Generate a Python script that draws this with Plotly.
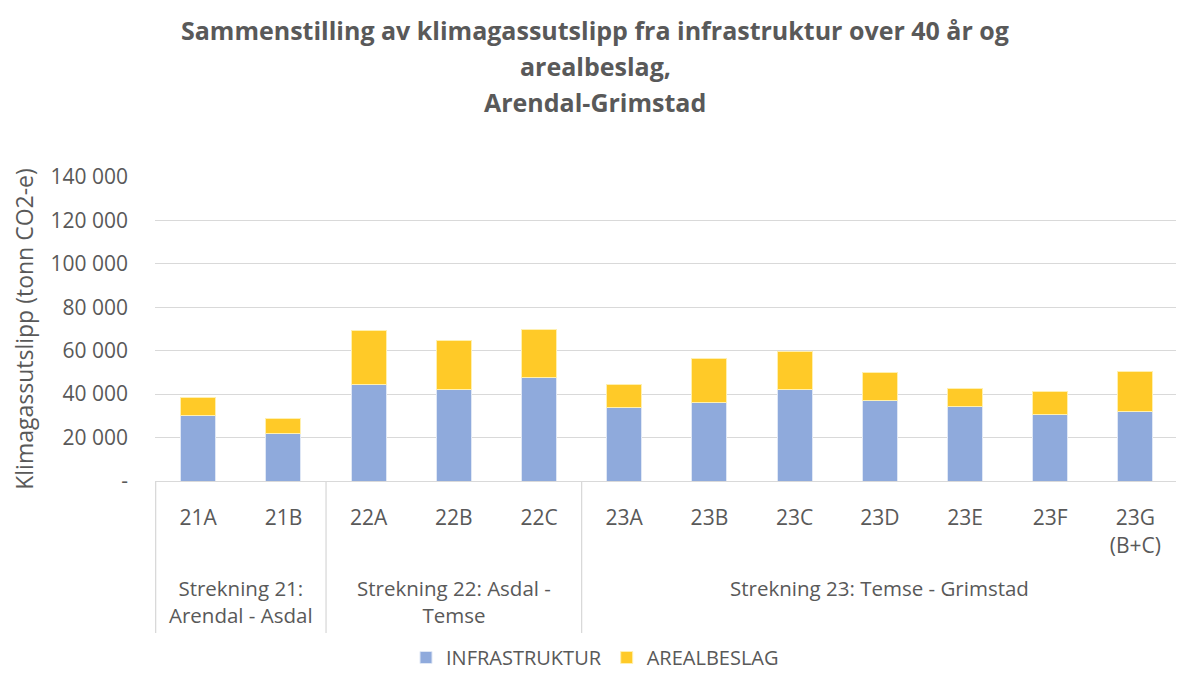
import plotly.graph_objects as go

categories = ["21A", "21B", "22A", "22B", "22C", "23A", "23B", "23C", "23D", "23E", "23F", "23G (B+C)"]
tick_labels = ["21A", "21B", "22A", "22B", "22C", "23A", "23B", "23C", "23D", "23E", "23F", "23G<br>(B+C)"]
infrastruktur = [30100, 21800, 44500, 42300, 47800, 34000, 36300, 42000, 36900, 34200, 30500, 31900]
arealbeslag = [8500, 7000, 24900, 22500, 21900, 10300, 20200, 17500, 12900, 8400, 10700, 18400]
groups = ["Strekning 21:<br>Arendal - Asdal", "Strekning 22: Asdal -<br>Temse", "Strekning 23: Temse - Grimstad"]
group_spans = [(0, 1), (2, 4), (5, 11)]
y_ticks = [0, 20000, 40000, 60000, 80000, 100000, 120000, 140000]
y_tick_text = ["-", "20 000", "40 000", "60 000", "80 000", "100 000", "120 000", "140 000"]
title_lines = ["Sammenstilling av klimagassutslipp fra infrastruktur over 40 år og",
               "arealbeslag,", "Arendal-Grimstad"]

FONT = "Open Sans"
GREY = "#595959"

# page offset (body margin) compensation: the figure is drawn at (8, 8)
OFF = 8
W, H = 1184 - OFF, 677 - OFF
# target plot area in screen pixels
SL, SR, ST, SB = 155, 1178, 177, 481


def pyp(sy):
    return (SB - sy) / (SB - ST)


def pxp(sx):
    return (sx - SL) / (SR - SL)


fig = go.Figure()
fig.add_trace(go.Bar(x=categories, y=infrastruktur, name="INFRASTRUKTUR",
                     marker=dict(color="#8FAADC", line=dict(color="#dfe7f5", width=1))))
fig.add_trace(go.Bar(x=categories, y=arealbeslag, name="AREALBESLAG",
                     marker=dict(color="#FFCA28", line=dict(color="#fff0b0", width=1))))

# dividers
for xv in [-0.5, 1.5, 4.5]:
    fig.add_shape(type="line", xref="x", yref="paper", x0=xv, x1=xv,
                  y0=0, y1=pyp(633), line=dict(color="#d9d9d9", width=1.3))

for g, (a, b) in zip(groups, group_spans):
    fig.add_annotation(x=(a + b) / 2, y=pyp(572), xref="x", yref="paper", text=g,
                       showarrow=False, yanchor="top", xanchor="center",
                       font=dict(family=FONT, size=20.5, color=GREY))

for txt, sy in zip(title_lines, [30, 66, 102]):
    fig.add_annotation(x=pxp(595), y=pyp(sy), xref="paper", yref="paper",
                       text="<b>" + txt + "</b>", showarrow=False,
                       xanchor="center", yanchor="middle",
                       font=dict(family=FONT, size=25, color=GREY))

fig.update_layout(
    width=W, height=H,
    barmode="stack", bargap=0.59,
    plot_bgcolor="white", paper_bgcolor="white",
    margin=dict(l=SL - OFF, r=W - (SR - OFF), t=ST - OFF, b=H - (SB - OFF)),
    font=dict(family=FONT, color=GREY, size=20),
    xaxis=dict(tickmode="array", tickvals=categories, ticktext=tick_labels,
               showline=True, linecolor="#d9d9d9", linewidth=1.3, ticks="",
               ticklabelstandoff=18, tickfont=dict(size=21, color=GREY, family=FONT)),
    yaxis=dict(range=[0, 140000], tickvals=y_ticks, ticktext=y_tick_text,
               showgrid=True, gridcolor="#d9d9d9", gridwidth=1.3, zeroline=False,
               ticks="", ticklabelstandoff=26,
               tickfont=dict(size=21, color=GREY, family=FONT),
               title=dict(text="Klimagassutslipp (tonn CO2-e)", standoff=14,
                          font=dict(size=23, color=GREY, family=FONT))),
    legend=dict(orientation="h", xref="container", yref="container",
                x=(595 - OFF) / W, xanchor="center",
                y=0, yanchor="bottom", traceorder="normal",
                font=dict(size=20, color=GREY, family=FONT), itemwidth=30),
)

fig.write_html("out.html")
